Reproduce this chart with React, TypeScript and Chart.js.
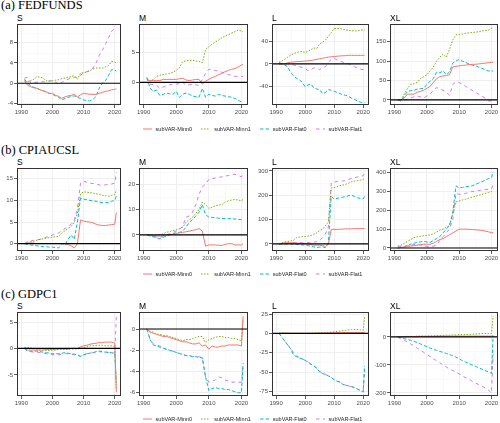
import React, { useEffect, useRef } from 'react';
import { Chart, registerables } from 'chart.js';

Chart.register(...registerables);

// ---------- shared categories / labels ----------
const YEARS = [1991, 1992, 1993, 1994, 1995, 1996, 1997, 1998, 1999, 2000, 2001, 2002, 2003, 2004, 2005, 2006, 2007, 2008, 2009, 2010, 2011, 2012, 2013, 2014, 2015, 2016, 2017, 2018, 2019, 2020, 2020.5];
const SERIES_NAMES = ['subVAR-Minn0', 'subVAR-Minn1', 'subVAR-Flat0', 'subVAR-Flat1'];
const ROW_TITLES = ['(a) FEDFUNDS', '(b) CPIAUCSL', '(c) GDPC1'];
const PANEL_TITLES = ['S', 'M', 'L', 'XL'];
const X_TICKS = [1990, 2000, 2010, 2020];

// ---------- (a) FEDFUNDS ----------
const FED_S_MINN0 = [0.5, -0.4, -0.7, -0.9, -1.0, -1.3, -1.5, -1.7, -2.0, -2.0, -2.4, -2.6, -3.0, -2.7, -2.5, -2.4, -2.2, -2.7, -2.3, -2.0, -2.1, -2.2, -2.2, -2.2, -2.0, -1.8, -1.6, -1.5, -1.3, -1.2, -1.1];
const FED_S_MINN1 = [0.5, 0.3, 0.5, 0.8, 1.3, 1.2, 1.0, 0.5, 0.5, 0.5, 0.6, 0.7, 0.9, 1.0, 1.2, 1.3, 1.5, 0.8, 2.0, 2.1, 2.2, 2.5, 2.8, 3.0, 3.0, 3.0, 3.2, 3.5, 4.3, 4.2, 4.0];
const FED_S_FLAT0 = [0.8, 0.0, -0.5, -0.8, -1.0, -1.3, -1.5, -1.8, -2.0, -2.2, -2.5, -2.8, -3.3, -3.0, -2.8, -2.6, -2.5, -2.8, -3.0, -3.3, -3.4, -3.5, -3.2, -2.6, -1.0, 0.0, 0.5, 1.5, 2.7, 2.6, 2.4];
const FED_S_FLAT1 = [1.0, 1.2, 0.0, 0.1, 0.2, 0.2, 0.3, 0.3, 0.4, 0.5, 0.2, -0.3, 0.2, 0.5, 0.8, 1.0, 1.1, 1.2, 1.6, 2.0, 2.3, 2.5, 3.0, 4.0, 5.5, 6.5, 7.7, 9.0, 10.3, 10.8, 10.5];
const FED_S_TICKS = [-4, 0, 4, 8];

const FED_M_MINN0 = [0.5, 0.3, 0.3, 0.3, 0.3, 0.5, 0.5, 0.5, 0.5, 0.5, 0.6, 0.7, 0.4, 0.3, 0.4, 0.5, 0.5, -0.3, 0.2, 0.5, 0.8, 1.0, 1.3, 1.5, 1.8, 2.0, 2.2, 2.3, 2.6, 2.9, 3.0];
const FED_M_MINN1 = [0.5, 0.2, 0.5, 1.0, 1.2, 1.3, 1.4, 1.5, 1.7, 2.0, 2.5, 3.5, 3.6, 3.7, 3.7, 3.6, 3.5, 3.3, 5.5, 6.0, 6.4, 6.8, 7.1, 7.5, 7.8, 8.0, 8.3, 8.5, 8.8, 8.6, 8.5];
const FED_M_FLAT0 = [0.8, -1.0, -1.5, -1.3, -2.2, -2.0, -1.8, -1.9, -2.0, -1.5, -2.5, -2.0, -1.8, -2.0, -2.3, -2.4, -2.5, -1.0, -2.5, -2.0, -2.2, -2.3, -2.0, -2.2, -2.3, -2.4, -2.5, -2.7, -3.0, -3.3, -3.4];
const FED_M_FLAT1 = [0.8, -0.3, -0.4, -0.5, -1.0, -0.8, -0.5, -0.4, -0.3, -0.3, -0.2, 0.0, -0.5, -0.4, -0.3, -0.4, -0.5, 0.5, 1.5, 2.2, 2.1, 2.0, 1.9, 1.7, 1.5, 1.3, 1.2, 1.0, 1.0, 1.0, 1.0];
const FED_M_TICKS = [0, 5];

const FED_L_MINN0 = [0, 0, 0, 2, 3, 3.5, 4, 4.3, 4.6, 5, 5.5, 6, 7, 8, 9, 10, 11, 12, 12.5, 13, 13.5, 14, 14.3, 14.5, 15, 15, 15, 15, 15, 15, 15];
const FED_L_MINN1 = [3, 5, 8, 12, 15, 18, 20, 21, 22, 20, 22, 25, 28, 27, 35, 38, 42, 48, 55, 62, 62, 62, 61, 60, 59, 58, 58, 58, 59, 60, 60];
const FED_L_FLAT0 = [0, 0, -2, -5, -15, -20, -25, -28, -32, -40, -37, -35, -42, -44, -45, -52, -50, -45, -46, -48, -50, -52, -54, -55, -57, -60, -62, -65, -67, -68, -68];
const FED_L_FLAT1 = [3, 0, 0, 0, -1, -2, -3, -5, -6, -8, -12, -10, -7, -8, -10, -6, -5, 3, 8, 10, 7, 5, 3, 2, 0, -2, -5, -7, -9, -10, -10];
const FED_L_TICKS = [-40, 0, 40];

const FED_XL_MINN0 = [0, 0, 5, 15, 15, 15, 20, 22, 25, 30, 35, 45, 55, 60, 62, 63, 65, 85, 87, 88, 89, 90, 91, 92, 92, 93, 94, 95, 96, 97, 97];
const FED_XL_MINN1 = [0, 0, 15, 30, 40, 42, 45, 55, 60, 65, 75, 85, 100, 110, 118, 110, 130, 155, 168, 169, 170, 172, 173, 174, 175, 176, 178, 179, 180, 185, 185];
const FED_XL_FLAT0 = [0, -3, 10, 22, 24, 25, 28, 29, 30, 40, 48, 55, 72, 70, 75, 65, 72, 95, 100, 105, 100, 97, 93, 90, 88, 85, 82, 78, 75, 75, 75];
const FED_XL_FLAT1 = [0, 0, -2, 2, 5, 8, 10, 8, 5, 10, 15, 25, 32, 28, 25, 20, 12, 40, 47, 45, 40, 35, 30, 25, 20, 15, 10, 5, -2, -3, -3];
const FED_XL_TICKS = [0, 50, 100, 150];

// ---------- (b) CPIAUCSL ----------
const CPI_S_MINN0 = [0, 0.1, 0.2, 0.1, 0, 0, 0, 0, 0, 0, 0, 0, 0, -0.1, -0.2, -0.5, -1.0, 0, 5.5, 5.2, 5.1, 5.0, 4.8, 4.5, 4.3, 4.2, 4.2, 4.3, 4.4, 4.5, 7.2];
const CPI_S_MINN1 = [0, 0.3, 0.4, 0.5, 0.8, 1.0, 1.1, 1.3, 1.4, 1.5, 1.6, 1.7, 2.5, 3.0, 3.5, 4.0, 5.0, 7.0, 11.5, 12.0, 11.9, 11.8, 11.7, 11.5, 11.4, 11.2, 11.1, 11.0, 11.2, 11.3, 12.5];
const CPI_S_FLAT0 = [0, -0.2, -0.3, -0.4, -0.5, -0.6, -0.7, -0.7, -0.8, -0.8, -0.9, -1.0, 0, -0.2, 1.0, 2.0, 1.0, 5.0, 10.5, 10.3, 10.2, 10.0, 9.9, 9.8, 9.6, 9.5, 9.5, 9.5, 9.8, 10.0, 11.0];
const CPI_S_FLAT1 = [0, 0.5, 0.6, 0.8, 0.9, 1.0, 1.2, 1.5, 1.7, 2.0, 2.2, 2.5, 3.0, 3.5, 4.0, 4.5, 5.5, 8.0, 14.0, 14.5, 14.2, 14.0, 13.9, 13.8, 13.6, 13.5, 13.6, 13.7, 13.8, 14.0, 16.5];
const CPI_S_TICKS = [0, 5, 10, 15];

const CPI_M_MINN0 = [0, -0.2, -0.3, -0.4, -0.5, -0.3, -0.1, 0, 0.2, 0.5, 0.8, 1.0, 1.2, 1.5, 1.8, 2.0, 2.5, 1.5, -4.5, -4.0, -4.0, -4.0, -4.1, -4.2, -3.8, -3.5, -3.5, -4.0, -4.0, -4.0, -3.5];
const CPI_M_MINN1 = [0, -0.3, -0.5, -0.3, 0, 0.5, 1.0, 1.3, 1.7, 2.0, 2.5, 3.0, 5.0, 6.0, 7.0, 8.5, 10.0, 13.0, 12.0, 10.5, 11.0, 11.5, 11.8, 12.0, 13.0, 13.5, 13.8, 14.0, 13.8, 13.5, 14.0];
const CPI_M_FLAT0 = [0, -0.5, -0.8, -1.2, -1.5, -1.0, -0.5, 0, 0.5, 0.8, 1.0, 1.5, 3.0, 5.0, 6.0, 7.5, 9.0, 12.0, 8.0, 7.0, 6.9, 6.8, 6.6, 6.5, 6.5, 6.5, 6.4, 6.3, 6.1, 6.0, 6.0];
const CPI_M_FLAT1 = [0, -0.3, -0.5, -0.8, -1.0, -0.5, 0, 0.5, 1.0, 1.5, 2.0, 3.5, 7.0, 7.5, 9.0, 12.0, 16.0, 19.0, 20.0, 22.0, 22.3, 22.5, 22.8, 23.0, 23.3, 23.5, 23.8, 24.0, 23.5, 23.0, 24.5];
const CPI_M_TICKS = [0, 10, 20];

const CPI_L_MINN0 = [0, 3, 5, 5, 5, 5, 4, 3, 2, 2, 0, -3, -5, -5, -5, -7, -10, -2, 60, 60, 60, 60, 61, 62, 62, 62, 63, 63, 63, 63, 63];
const CPI_L_MINN1 = [0, 5, 8, 10, 12, 15, 25, 28, 30, 30, 32, 35, 40, 45, 55, 60, 75, 90, 230, 232, 235, 240, 242, 245, 250, 255, 258, 260, 262, 265, 270];
const CPI_L_FLAT0 = [0, 0, 0, 0, 0, -1, -2, -3, -4, -5, -7, -10, -12, -15, -13, -12, -15, 5, 195, 185, 187, 190, 192, 195, 198, 200, 195, 190, 187, 185, 195];
const CPI_L_FLAT1 = [0, 1, 1, 2, 3, 4, 5, 5, 5, 5, 5, 5, 7, 10, 15, 25, 40, 70, 250, 255, 256, 258, 259, 260, 265, 270, 272, 275, 278, 280, 290];
const CPI_L_TICKS = [0, 100, 200, 300];

const CPI_XL_MINN0 = [0, 3, 5, 8, 10, 12, 15, 18, 20, 20, 20, 25, 35, 45, 50, 60, 70, 80, 90, 100, 100, 100, 99, 98, 97, 95, 93, 90, 86, 82, 82];
const CPI_XL_MINN1 = [10, 15, 25, 35, 45, 55, 60, 62, 65, 67, 70, 75, 85, 95, 100, 110, 120, 180, 245, 250, 255, 260, 265, 270, 275, 280, 285, 290, 295, 300, 310];
const CPI_XL_FLAT0 = [0, 3, 5, 12, 20, 25, 30, 32, 35, 32, 30, 40, 50, 60, 80, 100, 120, 185, 330, 320, 322, 325, 328, 330, 338, 345, 352, 360, 368, 375, 405];
const CPI_XL_FLAT1 = [5, 8, 10, 12, 15, 18, 20, 15, 10, 8, 5, 10, 15, 40, 60, 80, 100, 150, 290, 285, 287, 290, 295, 300, 302, 305, 308, 310, 312, 315, 335];
const CPI_XL_TICKS = [0, 100, 200, 300, 400];

// ---------- (c) GDPC1 ----------
const GDP_S_MINN0 = [0, -0.3, -0.3, -0.3, -0.3, -0.3, -0.3, -0.2, -0.2, -0.2, -0.2, -0.1, -0.1, -0.1, -0.1, 0, 0, 0, 0.3, 0.5, 0.6, 0.8, 0.9, 1.0, 1.1, 1.1, 1.2, 1.2, 1.2, 1.0, -8.3];
const GDP_S_MINN1 = [0.2, 0.2, 0.1, 0, -0.2, -0.3, -0.3, -0.4, -0.4, -0.3, -0.3, -0.2, -0.2, -0.2, -0.2, -0.1, -0.1, -0.1, 0.0, 0.2, 0.3, 0.5, 0.5, 0.6, 0.6, 0.6, 0.5, 0.5, 0.5, 0.4, -7.5];
const GDP_S_FLAT0 = [0, -0.5, -0.5, -0.5, -0.5, -0.6, -0.7, -0.8, -0.9, -1.0, -1.0, -1.0, -0.9, -0.8, -0.9, -1.0, -1.1, -1.2, -1.5, -1.2, -1.0, -0.9, -0.8, -0.6, -0.5, -0.6, -0.7, -0.7, -0.8, -1.0, -6.5];
const GDP_S_FLAT1 = [0, -0.6, -0.6, -0.7, -0.7, -0.8, -0.9, -1.0, -1.1, -1.2, -1.2, -1.2, -1.1, -1.0, -1.0, -1.1, -1.2, -1.3, -1.5, -1.2, -1.0, -0.9, -0.8, -0.7, -0.6, -0.7, -0.7, -0.8, -0.8, -0.9, 6.0];
const GDP_S_TICKS = [-5, 0, 5];

const GDP_M_MINN0 = [0, -0.3, -0.4, -0.5, -0.6, -0.7, -0.7, -0.8, -0.9, -1.0, -1.1, -1.2, -1.2, -1.3, -1.4, -1.4, -1.3, -1.6, -1.5, -1.9, -1.6, -1.7, -1.7, -1.6, -1.6, -1.5, -1.5, -1.5, -1.5, -1.6, 1.2];
const GDP_M_MINN1 = [0, -0.2, -0.3, -0.5, -0.5, -0.6, -0.6, -0.7, -0.8, -0.9, -1.0, -1.1, -1.0, -1.0, -0.9, -0.8, -0.7, -0.7, -1.3, -1.0, -0.9, -0.8, -0.7, -0.7, -0.8, -0.8, -0.9, -0.9, -1.0, -1.1, 0.8];
const GDP_M_FLAT0 = [0, -1.0, -1.5, -1.6, -1.7, -1.8, -1.9, -2.0, -2.1, -2.2, -2.3, -2.4, -2.5, -2.5, -2.6, -2.6, -2.7, -2.7, -4.5, -5.8, -5.6, -5.5, -5.6, -5.6, -5.7, -5.7, -5.8, -5.9, -6.0, -6.0, -3.2];
const GDP_M_FLAT1 = [0, -1.0, -1.4, -1.5, -1.6, -1.8, -1.9, -2.0, -2.1, -2.2, -2.3, -2.4, -2.5, -2.5, -2.6, -2.6, -2.6, -2.7, -4.5, -5.0, -4.9, -4.8, -4.5, -4.6, -4.8, -4.9, -5.0, -5.0, -5.0, -5.0, -3.5];
const GDP_M_TICKS = [-6, -4, -2, 0];

const GDP_L_MINN0 = [0, 0, 0, 0, 0, 0, 0, 0, 0, 0, 0, 0, 0, 0.2, 0.3, 0.4, 0.5, 0.5, 0.6, 0.7, 0.8, 0.8, 0.9, 0.9, 1.0, 1.0, 1.0, 1.0, 1.0, 1.0, 1.5];
const GDP_L_MINN1 = [0, 0.5, 0.5, 0.3, 0, 0, 0, 0, 0, 0, 0.2, 0.3, 0.4, 0.5, 0.6, 0.8, 1.0, 1.2, 1.5, 2.0, 2.5, 3.0, 3.5, 4.0, 4.5, 5.0, 5.0, 5.0, 4.5, 4.0, 22];
const GDP_L_FLAT0 = [0, -5, -10, -15, -20, -28, -30, -32, -33, -35, -37, -40, -42, -45, -50, -52, -53, -55, -57, -60, -62, -63, -66, -67, -68, -69, -70, -72, -74, -76, -42];
const GDP_L_FLAT1 = [0, -5, -10, -15, -19, -25, -29, -31, -33, -35, -37, -40, -42, -45, -49, -52, -53, -55, -57, -60, -62, -63, -66, -67, -68, -69, -70, -72, -74, -75, -46];
const GDP_L_TICKS = [-75, -50, -25, 0, 25];

const GDP_XL_MINN0 = [0, 0, 0.5, 1, 1, 1.5, 1.5, 2, 2, 2, 2, 2, 2.5, 2.5, 2.5, 3, 3, 3, 3, 3, 3, 3, 3, 3, 3, 3, 3, 3, 3, 3, 5];
const GDP_XL_MINN1 = [0, 1, 1, 2, 2, 2, 3, 3, 3, 3, 4, 4, 5, 5, 5, 6, 6, 7, 7, 8, 8, 9, 9, 10, 10, 11, 12, 12, 12, 12, 75];
const GDP_XL_FLAT0 = [0, -3, -6, -9, -12, -16, -20, -25, -30, -35, -40, -44, -48, -52, -55, -59, -63, -67, -72, -78, -85, -90, -95, -100, -105, -110, -115, -120, -125, -130, 5];
const GDP_XL_FLAT1 = [0, -8, -12, -18, -25, -32, -40, -48, -55, -62, -70, -78, -85, -92, -100, -107, -115, -120, -125, -132, -140, -145, -150, -158, -165, -170, -175, -182, -190, -200, -60];
const GDP_XL_TICKS = [-200, -100, 0];

// ---------- styling ----------
const COLORS = ['#F8766D', '#7CAE00', '#00BFC4', '#C77CFF'];
const DASHES: number[][] = [[], [1.5, 1.5], [3.5, 2], [3.5, 3.5]];
const SANS = '"Liberation Sans", Arial, sans-serif';
const SERIF = '"Liberation Serif", "Times New Roman", serif';
const X_MIN = 1988.6;
const X_MAX = 2022;
const PAD_T = 5;
const PAD_R = 5;
const XH = 12;

type PanelCfg = { series: number[][]; ticks: number[]; min: number; max: number };

const ROWS: { title: string; titleTop: number; labelY: number; top: number; bottom: number; legendY: number; panels: PanelCfg[] }[] = [
  {
    title: ROW_TITLES[0], titleTop: -1, labelY: 18.5, top: 24, bottom: 105, legendY: 129,
    panels: [
      { series: [FED_S_MINN0, FED_S_MINN1, FED_S_FLAT0, FED_S_FLAT1], ticks: FED_S_TICKS, min: -4.3, max: 11.7 },
      { series: [FED_M_MINN0, FED_M_MINN1, FED_M_FLAT0, FED_M_FLAT1], ticks: FED_M_TICKS, min: -3.8, max: 9.8 },
      { series: [FED_L_MINN0, FED_L_MINN1, FED_L_FLAT0, FED_L_FLAT1], ticks: FED_L_TICKS, min: -72, max: 70 },
      { series: [FED_XL_MINN0, FED_XL_MINN1, FED_XL_FLAT0, FED_XL_FLAT1], ticks: FED_XL_TICKS, min: -13, max: 196 },
    ],
  },
  {
    title: ROW_TITLES[1], titleTop: 144, labelY: 162, top: 168, bottom: 251, legendY: 274,
    panels: [
      { series: [CPI_S_MINN0, CPI_S_MINN1, CPI_S_FLAT0, CPI_S_FLAT1], ticks: CPI_S_TICKS, min: -1.7, max: 17.5 },
      { series: [CPI_M_MINN0, CPI_M_MINN1, CPI_M_FLAT0, CPI_M_FLAT1], ticks: CPI_M_TICKS, min: -6.4, max: 26.5 },
      { series: [CPI_L_MINN0, CPI_L_MINN1, CPI_L_FLAT0, CPI_L_FLAT1], ticks: CPI_L_TICKS, min: -29, max: 312 },
      { series: [CPI_XL_MINN0, CPI_XL_MINN1, CPI_XL_FLAT0, CPI_XL_FLAT1], ticks: CPI_XL_TICKS, min: -16, max: 425 },
    ],
  },
  {
    title: ROW_TITLES[2], titleTop: 288, labelY: 306, top: 312, bottom: 396, legendY: 419,
    panels: [
      { series: [GDP_S_MINN0, GDP_S_MINN1, GDP_S_FLAT0, GDP_S_FLAT1], ticks: GDP_S_TICKS, min: -9, max: 6.9 },
      { series: [GDP_M_MINN0, GDP_M_MINN1, GDP_M_FLAT0, GDP_M_FLAT1], ticks: GDP_M_TICKS, min: -6.3, max: 1.6 },
      { series: [GDP_L_MINN0, GDP_L_MINN1, GDP_L_FLAT0, GDP_L_FLAT1], ticks: GDP_L_TICKS, min: -81, max: 27.6 },
      { series: [GDP_XL_MINN0, GDP_XL_MINN1, GDP_XL_FLAT0, GDP_XL_FLAT1], ticks: GDP_XL_TICKS, min: -211, max: 89 },
    ],
  },
];

const COLS = [
  { canvasLeft: 0, left: 17, right: 121 },
  { canvasLeft: 125, left: 139, right: 248 },
  { canvasLeft: 250, left: 272, right: 369 },
  { canvasLeft: 375, left: 390, right: 498 },
];

const framePlugin = {
  id: 'frame',
  beforeDatasetsDraw(chart: any) {
    const { ctx, chartArea: a, scales } = chart;
    const xs = scales.x, ys = scales.y;
    ctx.save();
    ctx.strokeStyle = '#F2F2F2';
    ctx.lineWidth = 0.5;
    const xt = X_TICKS;
    for (let i = 0; i < xt.length - 1; i++) {
      const px = Math.round(xs.getPixelForValue((xt[i] + xt[i + 1]) / 2)) + 0.5;
      ctx.beginPath(); ctx.moveTo(px, a.top); ctx.lineTo(px, a.bottom); ctx.stroke();
    }
    const yt = ys.ticks.map((t: any) => t.value);
    const step = yt[1] - yt[0];
    const minors = [yt[0] - step / 2, ...yt.map((v: number) => v + step / 2)];
    minors.forEach((v: number) => {
      if (v <= ys.min || v >= ys.max) return;
      const py = Math.round(ys.getPixelForValue(v)) + 0.5;
      ctx.beginPath(); ctx.moveTo(a.left, py); ctx.lineTo(a.right, py); ctx.stroke();
    });
    ctx.restore();
  },
  afterDatasetsDraw(chart: any) {
    const { ctx, chartArea: a, scales } = chart;
    ctx.save();
    const y0 = scales.y.getPixelForValue(0);
    ctx.strokeStyle = '#000000';
    ctx.lineWidth = 1.2;
    ctx.beginPath(); ctx.moveTo(a.left, y0); ctx.lineTo(a.right, y0); ctx.stroke();
    ctx.strokeStyle = '#333333';
    ctx.lineWidth = 1;
    ctx.strokeRect(a.left + 0.5, a.top + 0.5, a.right - a.left - 1, a.bottom - a.top - 1);
    ctx.restore();
  },
};

function Panel({ cfg, col, top, bottom }: { cfg: PanelCfg; col: typeof COLS[number]; top: number; bottom: number }) {
  const ref = useRef<HTMLCanvasElement | null>(null);
  const yw = col.left - col.canvasLeft;
  const width = col.right - col.canvasLeft + PAD_R;
  const height = bottom - top + PAD_T + XH;

  useEffect(() => {
    if (!ref.current) return;
    const tickFont = { size: 6, family: SANS };
    const chart = new Chart(ref.current, {
      type: 'line',
      data: {
        datasets: cfg.series.map((s, i) => ({
          label: SERIES_NAMES[i],
          data: YEARS.map((x, j) => ({ x, y: s[j] })),
          borderColor: COLORS[i],
          backgroundColor: COLORS[i],
          borderDash: DASHES[i],
          borderWidth: 1,
          pointRadius: 0,
          tension: 0,
          fill: false,
        })),
      },
      options: {
        animation: false,
        responsive: false,
        maintainAspectRatio: false,
        layout: { padding: { top: PAD_T, right: PAD_R, left: 0, bottom: 0 } },
        plugins: { legend: { display: false }, tooltip: { enabled: false } },
        scales: {
          x: {
            type: 'linear',
            min: X_MIN,
            max: X_MAX,
            afterBuildTicks: (s: any) => { s.ticks = X_TICKS.map((v) => ({ value: v })); },
            afterFit: (s: any) => { s.height = XH; },
            ticks: { font: tickFont, color: '#4D4D4D', padding: 1, maxRotation: 0, autoSkip: false, callback: (v: any) => String(v) },
            grid: { color: '#EBEBEB', lineWidth: 0.8, tickLength: 3, tickColor: '#333333', tickWidth: 0.8 },
            border: { display: false },
          },
          y: {
            type: 'linear',
            min: cfg.min,
            max: cfg.max,
            afterBuildTicks: (s: any) => { s.ticks = cfg.ticks.map((v) => ({ value: v })); },
            afterFit: (s: any) => { s.width = yw; },
            ticks: { font: tickFont, color: '#4D4D4D', padding: 1, autoSkip: false, callback: (v: any) => String(v) },
            grid: { color: '#EBEBEB', lineWidth: 0.8, tickLength: 3, tickColor: '#333333', tickWidth: 0.8 },
            border: { display: false },
          },
        },
      },
      plugins: [framePlugin],
    } as any);
    return () => chart.destroy();
  }, []);

  return (
    <canvas
      ref={ref}
      width={width}
      height={height}
      style={{ position: 'absolute', left: col.canvasLeft, top: top - PAD_T, width, height }}
    />
  );
}

function LegendKey({ color, dash }: { color: string; dash: number[] }) {
  return (
    <svg width={9} height={6} style={{ display: 'block', marginRight: 4 }}>
      <line x1={0} y1={3} x2={9} y2={3} stroke={color} strokeWidth={1} strokeDasharray={dash.length ? dash.join(' ') : undefined} />
    </svg>
  );
}

export default function App() {
  return (
    <div style={{ position: 'absolute', left: 0, top: 0, width: 500, height: 423, background: '#ffffff', overflow: 'hidden' }}>
      {ROWS.map((row, r) => (
        <React.Fragment key={r}>
          <div style={{ position: 'absolute', left: 1, top: row.titleTop, fontFamily: SERIF, fontWeight: 400, fontSize: 12.5, lineHeight: '13px', color: '#000', whiteSpace: 'nowrap' }}>
            {row.title}
          </div>
          {row.panels.map((p, c) => (
            <React.Fragment key={c}>
              <div style={{ position: 'absolute', left: COLS[c].left, top: row.labelY - 4.5, fontFamily: SANS, fontSize: 8.5, lineHeight: '9px', color: '#000' }}>
                {PANEL_TITLES[c]}
              </div>
              <Panel cfg={p} col={COLS[c]} top={row.top} bottom={row.bottom} />
            </React.Fragment>
          ))}
          <div style={{ position: 'absolute', left: 0, width: 505, top: row.legendY - 4, height: 8, display: 'flex', justifyContent: 'center', alignItems: 'center' }}>
            {SERIES_NAMES.map((name, i) => (
              <div key={i} style={{ display: 'flex', alignItems: 'center', marginLeft: i ? 9 : 0 }}>
                <LegendKey color={COLORS[i]} dash={DASHES[i]} />
                <span style={{ fontFamily: SANS, fontSize: 5.5, lineHeight: '8px', color: '#222', whiteSpace: 'nowrap' }}>{name}</span>
              </div>
            ))}
          </div>
        </React.Fragment>
      ))}
    </div>
  );
}
